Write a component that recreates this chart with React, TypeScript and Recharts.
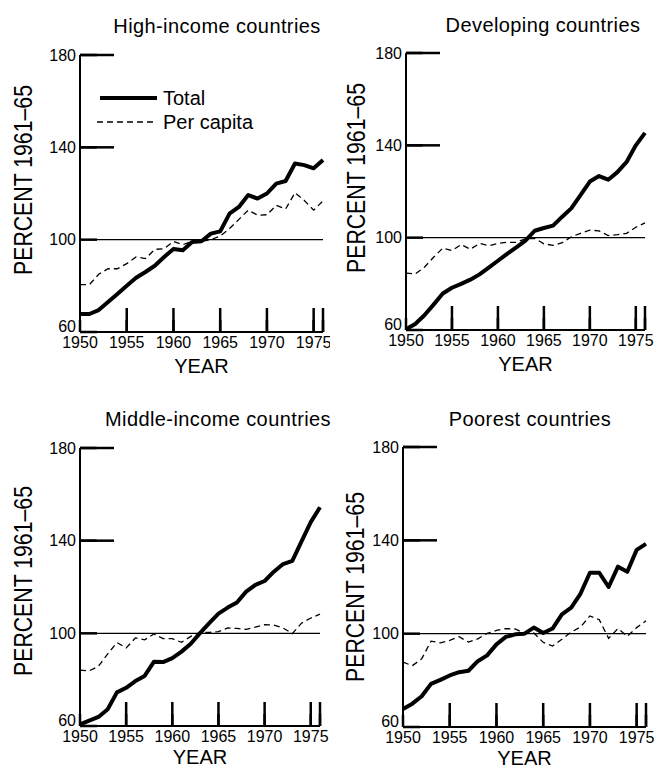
import React from 'react';
import { LineChart, Line, XAxis, YAxis, ReferenceLine, Label, Legend } from 'recharts';

// Years shown on every panel
const years = [
    1950, 1951, 1952, 1953, 1954, 1955, 1956, 1957, 1958, 1959,
    1960, 1961, 1962, 1963, 1964, 1965, 1966, 1967, 1968, 1969,
    1970, 1971, 1972, 1973, 1974, 1975, 1976,
];
// 1976 only gets an inward tick mark, no label
const yearTicks = [1950, 1955, 1960, 1965, 1970, 1975, 1976];
const innerYearTicks = [1955, 1960, 1965, 1970, 1975, 1976];
const percentTicks = [60, 100, 140, 180];
const innerPercentTicks = [140, 180];

// Percent of 1961-65
const highTotal = [67.8, 67.8, 69.5, 73, 76.5, 80, 83.5, 86, 88.7, 92.5, 96, 95.4, 99, 99.3, 102.6, 103.6, 111.3, 114.2, 119.3, 117.8, 120, 124.3, 125.4, 133, 132.3, 130.9, 134.5];
const highPerCapita = [80.5, 80.5, 85, 87.4, 87.4, 89.6, 92.5, 91.8, 95.8, 96.1, 99.2, 97.8, 99.4, 99.3, 100, 101.6, 104.8, 108.8, 112.8, 110.6, 110.8, 114.9, 113.3, 120.3, 117, 112.8, 116.8];

const devTotal = [60.3, 62.6, 66.4, 71, 75.8, 78.3, 80, 81.8, 84.1, 87, 90, 93, 95.8, 98.7, 103, 104.2, 105.2, 109.1, 112.8, 118.5, 124.3, 126.7, 125.1, 128.4, 132.8, 140, 145.4];
const devPerCapita = [84.6, 84.3, 87.2, 91.5, 95.5, 94.4, 97, 95, 97.5, 96.5, 97.5, 98, 98, 99.5, 99.7, 97.3, 96.7, 97.8, 100.4, 101.9, 103.3, 102.9, 100.9, 101.3, 101.9, 104.5, 106.4];

const midTotal = [60.7, 62.3, 63.9, 67.2, 74.5, 76.5, 79.4, 81.6, 87.7, 87.6, 89.3, 92.1, 95.5, 100.1, 104.4, 108.5, 111.1, 113.3, 118, 120.9, 122.6, 126.6, 129.9, 131.3, 139.7, 148, 154.4];
const midPerCapita = [84.1, 83.8, 85.8, 91.1, 96, 93.7, 98, 97.2, 99.7, 97.7, 97.7, 96.1, 98.7, 100.4, 100.4, 100.7, 102.3, 102.1, 101.7, 102.7, 103.7, 103.6, 102.3, 99.9, 104.4, 106.6, 108.3];

const poorTotal = [67.7, 70, 73.2, 78.5, 80.2, 82.1, 83.5, 84.1, 88.2, 90.7, 95.4, 98.6, 99.7, 100, 102.6, 100.3, 102.2, 108.3, 111.2, 117.2, 126.1, 126.1, 120, 128.7, 126.5, 135.9, 138.5];
const poorPerCapita = [87.8, 86.3, 89.2, 96.8, 96.1, 97.1, 98.7, 96.4, 97.8, 100.1, 101.4, 102.2, 102, 100.1, 100.3, 96.3, 94.7, 97.6, 100.7, 102.9, 107.6, 106, 98, 102.2, 98.9, 102.6, 105.5];

const FONT = '"Liberation Sans", Arial, sans-serif';

// Tick marks point into the plot (negative tickSize); labels sit outside via tickMargin
const X_TICK_SIZE = -12;
const X_TICK_MARGIN = 17;
const Y_TICK_SIZE = -17;
const Y_TICK_MARGIN = 21;

function buildRows(total: number[], perCapita: number[]) {
    return years.map((year, i) => ({ year, total: total[i], perCapita: perCapita[i] }));
}

interface PanelLayout {
    title: string;
    total: number[];
    perCapita: number[];
    left: number;
    top: number;
    width: number;
    marginTop: number;
    marginRight: number;
    yAxisWidth: number;
    xAxisHeight: number;
    titleX: number;
    titleBaseline: number;
    yLabelX: number;
    yLabelY: number;
    yearGap: number;
    legend?: boolean;
}

const PANEL_HEIGHT = 385;

const panels: PanelLayout[] = [
    { title: 'High-income countries', total: highTotal, perCapita: highPerCapita, left: 0, top: 0, width: 330, marginTop: 55, marginRight: 7, yAxisWidth: 80, xAxisHeight: 53, titleX: 217, titleBaseline: 33, yLabelX: 23, yLabelY: 180, yearGap: 41, legend: true },
    { title: 'Developing countries', total: devTotal, perCapita: devPerCapita, left: 330, top: 0, width: 331, marginTop: 53, marginRight: 16, yAxisWidth: 76, xAxisHeight: 55, titleX: 213, titleBaseline: 32, yLabelX: 26, yLabelY: 178, yearGap: 41 },
    { title: 'Middle-income countries', total: midTotal, perCapita: midPerCapita, left: 0, top: 385, width: 330, marginTop: 63, marginRight: 10, yAxisWidth: 80, xAxisHeight: 44, titleX: 218, titleBaseline: 41, yLabelX: 23, yLabelY: 196, yearGap: 38 },
    { title: 'Poorest countries', total: poorTotal, perCapita: poorPerCapita, left: 330, top: 385, width: 331, marginTop: 62, marginRight: 15, yAxisWidth: 73, xAxisHeight: 43, titleX: 200, titleBaseline: 41, yLabelX: 25, yLabelY: 202, yearGap: 38 },
];

// Year label plus a short mark rising into the plot
function YearTick(props: any) {
    const { x, y, payload } = props;
    const v = payload.value;
    const axisY = y + X_TICK_SIZE - X_TICK_MARGIN + 12;
    return (
        <g>
            {v !== 1950 && (
                <line x1={x} x2={x} y1={axisY} y2={axisY - 12} stroke="black" strokeWidth={2.5} />
            )}
            {v !== 1976 && (
                <text x={x} y={y} dy="0.71em" textAnchor="middle" fill="black" fontSize={16} fontFamily={FONT}>
                    {v}
                </text>
            )}
        </g>
    );
}

// Percent label plus a short mark pointing right into the plot
function PercentTick(props: any) {
    const { x, y, payload } = props;
    const v = payload.value;
    const axisX = x - Y_TICK_SIZE + Y_TICK_MARGIN - 17;
    return (
        <g>
            {(v === 140 || v === 180) && (
                <line x1={axisX} x2={axisX + 17} y1={y} y2={y} stroke="black" strokeWidth={2.5} />
            )}
            <text x={x} y={v === 60 ? y - 6 : y} dy="0.355em" textAnchor="end" fill="black" fontSize={16} fontFamily={FONT}>
                {v}
            </text>
        </g>
    );
}

function LegendBox() {
    return (
        <div style={{ fontFamily: FONT, fontSize: 20, color: 'black', lineHeight: '24px' }}>
            <div style={{ display: 'flex', alignItems: 'center', height: 24 }}>
                <svg width={64} height={24}>
                    <line x1={4} x2={61} y1={12} y2={12} stroke="black" strokeWidth={4} />
                </svg>
                <span style={{ marginLeft: 3 }}>Total</span>
            </div>
            <div style={{ display: 'flex', alignItems: 'center', height: 24 }}>
                <svg width={64} height={24}>
                    <line x1={1} x2={59} y1={12} y2={12} stroke="black" strokeWidth={1.3} strokeDasharray="6 4" />
                </svg>
                <span style={{ marginLeft: 3 }}>Per capita</span>
            </div>
        </div>
    );
}

function Panel({ p }: { p: PanelLayout }) {
    const data = buildRows(p.total, p.perCapita);
    return (
        <div style={{ position: 'absolute', left: p.left, top: p.top, width: p.width, height: PANEL_HEIGHT }}>
            <div
                style={{
                    position: 'absolute',
                    left: p.titleX - 160,
                    width: 320,
                    top: p.titleBaseline - 17,
                    textAlign: 'center',
                    fontFamily: FONT,
                    fontSize: 20,
                    lineHeight: '20px',
                    letterSpacing: 0.4,
                    color: 'black',
                    whiteSpace: 'nowrap',
                }}
            >
                {p.title}
            </div>
            <LineChart
                width={p.width}
                height={PANEL_HEIGHT}
                data={data}
                margin={{ top: p.marginTop, right: p.marginRight, left: 0, bottom: 0 }}
            >
                <XAxis
                    dataKey="year"
                    type="number"
                    domain={[1950, 1976]}
                    ticks={yearTicks}
                    interval={0}
                    height={p.xAxisHeight}
                    tickSize={X_TICK_SIZE}
                    tickMargin={X_TICK_MARGIN}
                    tickLine={{ stroke: 'black', strokeWidth: 2.5 }}
                    axisLine={{ stroke: 'black', strokeWidth: 2 }}
                    tick={<YearTick />}
                >
                    <Label
                        content={(props: any) => {
                            const vb = props.viewBox || {};
                            return (
                                <text
                                    x={vb.x + vb.width / 2}
                                    y={vb.y + p.yearGap}
                                    textAnchor="middle"
                                    fontFamily={FONT}
                                    fontSize={20}
                                    fill="black"
                                >
                                    YEAR
                                </text>
                            );
                        }}
                    />
                </XAxis>
                <YAxis
                    type="number"
                    domain={[60, 180]}
                    ticks={percentTicks}
                    interval={0}
                    width={p.yAxisWidth}
                    tickSize={Y_TICK_SIZE}
                    tickMargin={Y_TICK_MARGIN}
                    tickLine={{ stroke: 'black', strokeWidth: 2.5 }}
                    axisLine={{ stroke: 'black', strokeWidth: 2 }}
                    tick={<PercentTick />}
                >
                    <Label
                        content={() => (
                            <text
                                x={p.yLabelX}
                                y={p.yLabelY}
                                transform={`rotate(-90 ${p.yLabelX} ${p.yLabelY})`}
                                textAnchor="middle"
                                dominantBaseline="central"
                                fontFamily={FONT}
                                fontSize={26}
                                textLength={190}
                                lengthAdjust="spacingAndGlyphs"
                                fill="black"
                            >
                                PERCENT 1961–65
                            </text>
                        )}
                    />
                </YAxis>
                <ReferenceLine y={100} stroke="black" strokeWidth={1.2} />
                {innerYearTicks.map(yr => (
                    <ReferenceLine
                        key={`x${yr}`}
                        segment={[{ x: yr, y: 60 }, { x: yr, y: 65.2 }]}
                        stroke="black"
                        strokeWidth={2.5}
                    />
                ))}
                {innerPercentTicks.map(v => (
                    <ReferenceLine
                        key={`y${v}`}
                        segment={[{ x: 1950, y: v }, { x: 1951.8, y: v }]}
                        stroke="black"
                        strokeWidth={2.5}
                    />
                ))}
                <Line
                    type="linear"
                    dataKey="perCapita"
                    name="Per capita"
                    stroke="black"
                    strokeWidth={1.3}
                    strokeDasharray="6 4"
                    dot={false}
                    activeDot={false}
                    isAnimationActive={false}
                />
                <Line
                    type="linear"
                    dataKey="total"
                    name="Total"
                    stroke="black"
                    strokeWidth={4}
                    strokeLinejoin="round"
                    dot={false}
                    activeDot={false}
                    isAnimationActive={false}
                />
                {p.legend && (
                    <Legend
                        layout="horizontal"
                        align="center"
                        verticalAlign="middle"
                        content={() => <LegendBox />}
                        wrapperStyle={{ left: 96, top: 86, width: 'auto', height: 'auto' }}
                    />
                )}
            </LineChart>
        </div>
    );
}

export default function App() {
    return (
        <div style={{ position: 'absolute', left: 0, top: 0, width: 661, height: 770, background: '#fff' }}>
            {panels.map(p => (
                <Panel key={p.title} p={p} />
            ))}
        </div>
    );
}
